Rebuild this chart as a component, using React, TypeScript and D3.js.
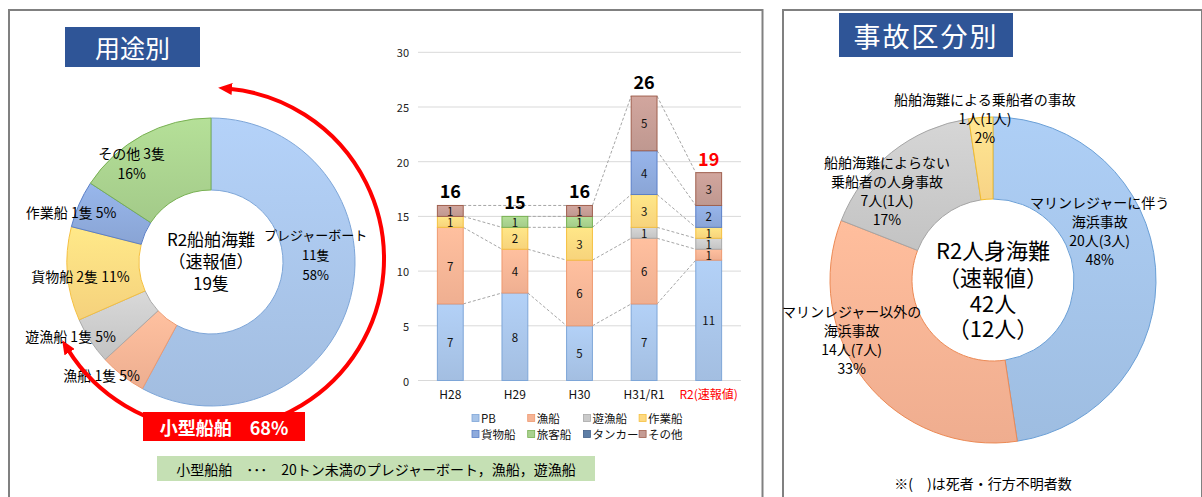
import { useMemo } from 'react';
import * as d3 from 'd3';

const FONT = '"Noto Sans CJK JP", "Noto Sans", sans-serif';
const WIDTH = 1202;
const HEIGHT = 497;

// bar chart data (用途別 推移)
const years = ['H28', 'H29', 'H30', 'H31/R1', 'R2(速報値)'];
const seriesNames = ['PB', '漁船', '遊漁船', '作業船', '貨物船', '旅客船', 'タンカー', 'その他'];
const pbCounts = [7, 8, 5, 7, 11];
const fishingCounts = [7, 4, 6, 6, 1];
const leisureFishingCounts = [0, 0, 0, 1, 1];
const workCounts = [1, 2, 3, 3, 1];
const cargoCounts = [0, 0, 0, 4, 2];
const passengerCounts = [0, 1, 1, 0, 0];
const tankerCounts = [0, 0, 0, 0, 0];
const otherCounts = [1, 0, 1, 5, 3];
const yTicks = [0, 5, 10, 15, 20, 25, 30];

// left donut (R2 用途別)
const useNames = ['プレジャーボート', '漁船', '遊漁船', '貨物船', '作業船', 'その他'];
const useCounts = [11, 1, 1, 2, 1, 3];
const smallShipNames = ['プレジャーボート', '漁船', '遊漁船'];

// right donut (事故区分別)
const accidentNames = [
  'マリンレジャーに伴う\n海浜事故',
  'マリンレジャー以外の\n海浜事故',
  '船舶海難によらない\n乗船者の人身事故',
  '船舶海難による乗船者の事故',
];
const accidentCounts = [20, 14, 7, 1];
const accidentDeaths = [3, 7, 1, 1];

const SERIES_COLORS: Record<string, { fill: string; stroke: string }> = {
  PB: { fill: '#a8c4e8', stroke: '#7ea6d8' },
  漁船: { fill: '#f6b495', stroke: '#ee9a70' },
  遊漁船: { fill: '#cacaca', stroke: '#a9a9a9' },
  作業船: { fill: '#fed980', stroke: '#f5c040' },
  貨物船: { fill: '#8eaadc', stroke: '#5a7fc8' },
  旅客船: { fill: '#a9d18e', stroke: '#79b153' },
  タンカー: { fill: '#5d7ea6', stroke: '#44618a' },
  その他: { fill: '#c59c94', stroke: '#a0604f' },
};

// colours as they appear in the left donut
const USE_COLORS = [
  SERIES_COLORS['PB'],
  SERIES_COLORS['漁船'],
  SERIES_COLORS['遊漁船'],
  SERIES_COLORS['作業船'],
  SERIES_COLORS['貨物船'],
  SERIES_COLORS['旅客船'],
];
const ACCIDENT_COLORS = [
  { fill: '#a3c2e7', stroke: '#6a9fd6' },
  { fill: '#f6b293', stroke: '#ec8a55' },
  { fill: '#c9c9c9', stroke: '#a5a5a5' },
  { fill: '#fed98a', stroke: '#f5bd2a' },
];

// label nudges from the ring centroid
const USE_LABEL_NUDGE = [
  [0, -34],
  [-43, 28],
  [-50, 15],
  [-23, 5],
  [-41, -7],
  [-28, -4],
];
const ACCIDENT_LABEL_NUDGE = [
  [-15, -40],
  [-46, -17],
  [-30, 6],
  [1, -40],
];

const BAR = { left: 418, right: 741, top: 52.3, bottom: 380.5 };
const LEFT_DONUT = { cx: 211, cy: 262, inner: 72, outer: 144 };
const RIGHT_DONUT = { cx: 993, cy: 280, inner: 81, outer: 163 };

const toRad = (deg: number) => (deg * Math.PI) / 180;

const Gradients = () => {
  const all = [
    ...Object.entries(SERIES_COLORS).map(([k, c]) => ({ id: `g-${seriesNames.indexOf(k)}`, c })),
    ...ACCIDENT_COLORS.map((c, i) => ({ id: `ga-${i}`, c })),
  ];
  return (
    <>
      {all.map(({ id, c }) => (
        <linearGradient key={id} id={id} x1="0" y1="0" x2="0" y2="1">
          <stop offset="0%" stopColor={d3.color(c.fill)!.brighter(0.18).formatHex()} />
          <stop offset="100%" stopColor={d3.color(c.fill)!.darker(0.08).formatHex()} />
        </linearGradient>
      ))}
    </>
  );
};

const BarChart = () => {
  const table = useMemo(() => {
    const cols = [
      pbCounts,
      fishingCounts,
      leisureFishingCounts,
      workCounts,
      cargoCounts,
      passengerCounts,
      tankerCounts,
      otherCounts,
    ];
    return years.map((year, i) => {
      const row: Record<string, number | string> = { year };
      seriesNames.forEach((name, s) => {
        row[name] = cols[s][i];
      });
      return row;
    });
  }, []);

  const stacked = d3.stack<Record<string, number | string>>().keys(seriesNames)(table as any);
  const totals = years.map((_, i) => d3.sum(seriesNames, (_n, s) => stacked[s][i][1] - stacked[s][i][0]));

  const xScale = d3
    .scaleBand()
    .domain(years)
    .range([BAR.left, BAR.right])
    .paddingInner(0.6)
    .paddingOuter(0.3);
  const yScale = d3.scaleLinear().domain([0, 30]).range([BAR.bottom, BAR.top]);
  const bw = xScale.bandwidth();

  // series lines between non-empty segments
  const connectors: JSX.Element[] = [];
  stacked.forEach((layer, s) => {
    const present = layer
      .map((d, i) => ({ i, top: d[1], v: d[1] - d[0] }))
      .filter(d => d.v > 0);
    for (let k = 0; k < present.length - 1; k++) {
      const a = present[k];
      const b = present[k + 1];
      connectors.push(
        <line
          key={`c-${s}-${k}`}
          x1={xScale(years[a.i])! + bw}
          y1={yScale(a.top)}
          x2={xScale(years[b.i])!}
          y2={yScale(b.top)}
          stroke="#a6a6a6"
          strokeWidth={1}
          strokeDasharray="3,2"
        />
      );
    }
  });

  return (
    <g fontFamily={FONT}>
      {yTicks.map(t => (
        <g key={`t-${t}`}>
          <line x1={BAR.left} x2={BAR.right} y1={yScale(t)} y2={yScale(t)} stroke="#d9d9d9" strokeWidth={1} />
          <text x={409} y={yScale(t)} textAnchor="end" dominantBaseline="central" fontSize={11} fill="#222">
            {t}
          </text>
        </g>
      ))}
      {connectors}
      {stacked.map((layer, s) =>
        layer.map((d, i) => {
          const v = d[1] - d[0];
          if (v <= 0) return null;
          const y0 = yScale(d[0]);
          const y1 = yScale(d[1]);
          const x = xScale(years[i])!;
          return (
            <g key={`b-${s}-${i}`}>
              <rect
                x={x}
                y={y1}
                width={bw}
                height={y0 - y1}
                fill={`url(#g-${s})`}
                stroke={SERIES_COLORS[seriesNames[s]].stroke}
                strokeWidth={1}
              />
              <text
                x={x + bw / 2}
                y={(y0 + y1) / 2}
                textAnchor="middle"
                dominantBaseline="central"
                fontSize={11.5}
                fill="#111"
              >
                {v}
              </text>
            </g>
          );
        })
      )}
      {totals.map((t, i) => (
        <text
          key={`tot-${i}`}
          x={xScale(years[i])! + bw / 2}
          y={yScale(t) - 15}
          textAnchor="middle"
          dominantBaseline="central"
          fontSize={18}
          fontWeight="bold"
          fill={i === years.length - 1 ? '#ff0000' : '#000'}
        >
          {t}
        </text>
      ))}
      {years.map((y, i) => (
        <text
          key={`x-${y}`}
          x={xScale(y)! + bw / 2}
          y={393}
          textAnchor="middle"
          dominantBaseline="central"
          fontSize={12}
          fill={i === years.length - 1 ? '#ff0000' : '#111'}
        >
          {y}
        </text>
      ))}
      {seriesNames.map((name, s) => {
        const col = s % 4;
        const row = Math.floor(s / 4);
        const lx = 472 + col * 55.7;
        const ly = 418 + row * 16;
        return (
          <g key={`lg-${name}`}>
            <rect
              x={lx}
              y={ly - 3.5}
              width={7}
              height={7}
              fill={SERIES_COLORS[name].fill}
              stroke={SERIES_COLORS[name].stroke}
              strokeWidth={0.8}
            />
            <text x={lx + 9} y={ly} dominantBaseline="central" fontSize={11.5} fill="#111">
              {name}
            </text>
          </g>
        );
      })}
    </g>
  );
};

const UseDonut = () => {
  const { cx, cy, inner, outer } = LEFT_DONUT;
  const total = d3.sum(useCounts);
  const pie = d3.pie<number>().sort(null).value(d => d);
  const arcs = pie(useCounts);
  const arcGen = d3.arc<d3.PieArcDatum<number>>().innerRadius(inner).outerRadius(outer);
  const mid = d3.arc<d3.PieArcDatum<number>>().innerRadius((inner + outer) / 2).outerRadius((inner + outer) / 2);

  const smallShare = Math.round(
    (d3.sum(useNames.map((n, i) => (smallShipNames.includes(n) ? useCounts[i] : 0))) / total) * 100
  );

  // red arrow arc around the small ship share
  const arrow = d3.path();
  arrow.arc(213, 259, 171, toRad(-84.6), toRad(148));

  return (
    <g fontFamily={FONT}>
      <defs>
        {USE_COLORS.map((c, i) => (
          <linearGradient key={`gu-${i}`} id={`gu-${i}`} x1="0" y1="0" x2="0" y2="1">
            <stop offset="0%" stopColor={d3.color(c.fill)!.brighter(0.2).formatHex()} />
            <stop offset="100%" stopColor={d3.color(c.fill)!.darker(0.1).formatHex()} />
          </linearGradient>
        ))}
        <marker
          id="redHead"
          viewBox="0 0 14 12"
          refX={3}
          refY={6}
          markerWidth={14}
          markerHeight={12}
          markerUnits="userSpaceOnUse"
          orient="auto-start-reverse"
        >
          <path d="M0,0 L14,6 L0,12 Z" fill="#ff0000" />
        </marker>
      </defs>
      <g transform={`translate(${cx},${cy})`}>
        {arcs.map((a, i) => (
          <path key={`ua-${i}`} d={arcGen(a)!} fill={`url(#gu-${i})`} stroke={USE_COLORS[i].stroke} strokeWidth={1} />
        ))}
        {arcs.map((a, i) => {
          const [mx, my] = mid.centroid(a);
          const [nx, ny] = USE_LABEL_NUDGE[i];
          const pct = `${Math.round((useCounts[i] / total) * 100)}%`;
          const lines =
            i === 0
              ? [useNames[i], `${useCounts[i]}隻`, pct]
              : i === useNames.length - 1
              ? [`${useNames[i]} ${useCounts[i]}隻`, pct]
              : [`${useNames[i]} ${useCounts[i]}隻 ${pct}`];
          const lh = 20;
          const y0 = my + ny - ((lines.length - 1) * lh) / 2;
          return (
            <text key={`ul-${i}`} textAnchor="middle" fontSize={i === 0 ? 13 : 14} fill="#000">
              {lines.map((l, k) => (
                <tspan key={k} x={mx + nx} y={y0 + k * lh} dominantBaseline="central">
                  {l}
                </tspan>
              ))}
            </text>
          );
        })}
        <text textAnchor="middle" fontSize={17} fill="#000">
          <tspan x={0} y={-24} dominantBaseline="central">R2船舶海難</tspan>
          <tspan x={0} y={-2} dominantBaseline="central">（速報値）</tspan>
          <tspan x={0} y={20} dominantBaseline="central">{`${total}隻`}</tspan>
        </text>
      </g>
      <path
        d={arrow.toString()}
        fill="none"
        stroke="#ff0000"
        strokeWidth={4}
        markerStart="url(#redHead)"
        markerEnd="url(#redHead)"
      />
      <rect x={143} y={412} width={162} height={29} fill="#ff0000" />
      <text x={224} y={427} textAnchor="middle" dominantBaseline="central" fontSize={18} fontWeight="bold" fill="#fff">
        {`小型船舶　${smallShare}%`}
      </text>
    </g>
  );
};

const AccidentDonut = () => {
  const { cx, cy, inner, outer } = RIGHT_DONUT;
  const total = d3.sum(accidentCounts);
  const totalDeaths = d3.sum(accidentDeaths);
  const arcs = d3.pie<number>().sort(null).value(d => d)(accidentCounts);
  const arcGen = d3.arc<d3.PieArcDatum<number>>().innerRadius(inner).outerRadius(outer);
  const mid = d3.arc<d3.PieArcDatum<number>>().innerRadius((inner + outer) / 2).outerRadius((inner + outer) / 2);

  return (
    <g fontFamily={FONT} transform={`translate(${cx},${cy})`}>
      {arcs.map((a, i) => (
        <path key={`aa-${i}`} d={arcGen(a)!} fill={`url(#ga-${i})`} stroke={ACCIDENT_COLORS[i].stroke} strokeWidth={1} />
      ))}
      {arcs.map((a, i) => {
        const [mx, my] = mid.centroid(a);
        const [nx, ny] = ACCIDENT_LABEL_NUDGE[i];
        const lines = [
          ...accidentNames[i].split('\n'),
          `${accidentCounts[i]}人(${accidentDeaths[i]}人)`,
          `${Math.round((accidentCounts[i] / total) * 100)}%`,
        ];
        const lh = 19;
        const y0 = my + ny - ((lines.length - 1) * lh) / 2;
        return (
          <text key={`al-${i}`} textAnchor="middle" fontSize={14} fill="#000">
            {lines.map((l, k) => (
              <tspan key={k} x={mx + nx} y={y0 + k * lh} dominantBaseline="central">
                {l}
              </tspan>
            ))}
          </text>
        );
      })}
      <text textAnchor="middle" fontSize={22} fill="#000">
        <tspan x={0} y={-31} dominantBaseline="central">R2人身海難</tspan>
        <tspan x={0} y={-4} dominantBaseline="central">（速報値）</tspan>
        <tspan x={0} y={22} dominantBaseline="central">{`${total}人`}</tspan>
        <tspan x={0} y={47} dominantBaseline="central">{`（${totalDeaths}人）`}</tspan>
      </text>
    </g>
  );
};

const App = () => {
  return (
    <svg
      width={WIDTH}
      height={HEIGHT}
      style={{ position: 'absolute', left: 0, top: 0, background: '#fff' }}
      fontFamily={FONT}
    >
      <defs>
        <Gradients />
      </defs>
      <rect x={9} y={10} width={753.5} height={520} fill="#fff" stroke="#808080" strokeWidth={2} />
      <rect x={783} y={10} width={419} height={520} fill="#fff" stroke="#808080" strokeWidth={2} />

      <rect x={65} y={27} width={135} height={40} fill="#2f5597" />
      <text x={132.5} y={47} textAnchor="middle" dominantBaseline="central" fontSize={25} fill="#fff">
        用途別
      </text>

      <rect x={839} y={13} width={174} height={44} fill="#2f5597" />
      <text
        x={926}
        y={35}
        textAnchor="middle"
        dominantBaseline="central"
        fontSize={27}
        letterSpacing={2}
        fill="#fff"
      >
        事故区分別
      </text>

      <UseDonut />
      <BarChart />
      <AccidentDonut />

      <rect x={157} y={456} width={438} height={25} fill="#c5e0b4" />
      <text x={376} y={469} textAnchor="middle" dominantBaseline="central" fontSize={14} fill="#000">
        小型船舶　･･･　20トン未満のプレジャーボート，漁船，遊漁船
      </text>

      <text x={983} y={483} textAnchor="middle" dominantBaseline="central" fontSize={14} fill="#000">
        ※(　)は死者・行方不明者数
      </text>
    </svg>
  );
};

export default App;
